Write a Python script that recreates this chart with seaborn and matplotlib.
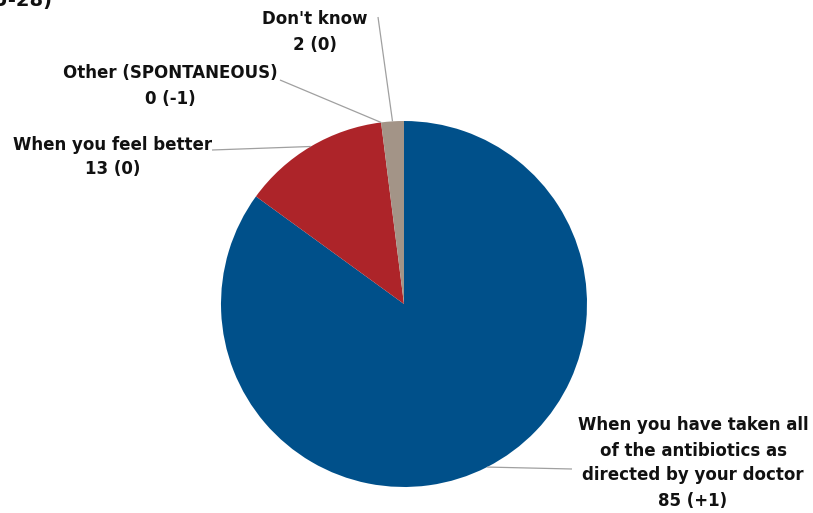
import matplotlib
matplotlib.use('Agg')
import matplotlib.pyplot as plt
import numpy as np
import seaborn as sns

# data
answers = ['When you have taken all\nof the antibiotics as\ndirected by your doctor',
           'When you feel better',
           'Other (SPONTANEOUS)',
           "Don't know"]
shares = [85, 13, 0, 2]
changes = ['+1', '0', '-1', '0']
colors = ['#00508A', '#AD2429', '#A8968A', '#A39487']

sns.set_theme(style='white')
plt.rcParams['font.family'] = ['DejaVu Sans']

W, H = 813, 513
fig = plt.figure(figsize=(W / 100, H / 100), dpi=100)
ax = fig.add_axes([0, 0, 1, 1])

cx, cy, r = 404, H - 304, 183
wedges, _ = ax.pie(shares, colors=colors, startangle=90, counterclock=False,
                   center=(cx, cy), radius=r,
                   wedgeprops=dict(linewidth=0))
ax.set_xlim(0, W)
ax.set_ylim(0, H)
ax.set_aspect('equal')
ax.axis('off')

# label text positions (pixels, top-left origin) and leader line end points
text_pos = [(693, 463), (113, 157), (170, 86), (315, 32)]
line_end = [(572, 469), (212, 150), (280, 80), (378, 17)]

for w, lab, val, ch, tp, le in zip(wedges, answers, shares, changes, text_pos, line_end):
    mid = np.deg2rad((w.theta1 + w.theta2) / 2)
    px = cx + r * np.cos(mid)
    py = cy + r * np.sin(mid)
    ax.plot([px, le[0]], [py, H - le[1]], color='#A0A0A0', lw=0.9,
            solid_capstyle='butt')
    ax.text(tp[0], H - tp[1], f'{lab}\n{val} ({ch})', ha='center', va='center',
            fontsize=12, fontweight='bold', color='#111111', linespacing=1.5)

# cut-off title at top-left
ax.text(52, H - 6, '(% - EU-28)', ha='right', va='baseline', fontsize=14,
        fontweight='bold', color='#111111')

fig.savefig('out.png', dpi=100)
